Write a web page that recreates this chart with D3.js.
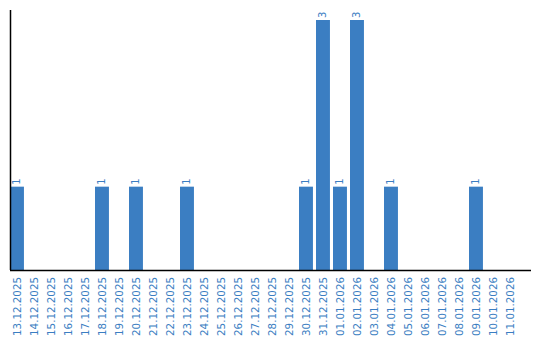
<!DOCTYPE html>
<html>
<head>
<meta charset="utf-8">
<script src="https://cdn.jsdelivr.net/npm/d3@7"></script>
<style>
    body { margin: 0; background: #fff; }
    text { font-family: "DejaVu Sans", sans-serif; }
</style>
</head>
<body>
<div id="chart"></div>
<script>
// dates shown on the x axis
var dates = ["13.12.2025", "14.12.2025", "15.12.2025", "16.12.2025", "17.12.2025",
    "18.12.2025", "19.12.2025", "20.12.2025", "21.12.2025", "22.12.2025",
    "23.12.2025", "24.12.2025", "25.12.2025", "26.12.2025", "27.12.2025",
    "28.12.2025", "29.12.2025", "30.12.2025", "31.12.2025", "01.01.2026",
    "02.01.2026", "03.01.2026", "04.01.2026", "05.01.2026", "06.01.2026",
    "07.01.2026", "08.01.2026", "09.01.2026", "10.01.2026", "11.01.2026"];
// count per date
var counts = [1, 0, 0, 0, 0, 1, 0, 1, 0, 0,
    1, 0, 0, 0, 0, 0, 0, 1, 3, 1,
    3, 0, 1, 0, 0, 0, 0, 1, 0, 0];

var width = 540, height = 340;
var barColor = "#3b7ec2";

var svg = d3.select("#chart").append("svg")
    .attr("width", width)
    .attr("height", height);

var x = d3.scaleBand()
    .domain(dates)
    .range([10, 10 + 17 * (dates.length - 0.18)])
    .paddingInner(0.18)
    .paddingOuter(0);

var y = d3.scaleLinear()
    .domain([0, 3])
    .range([270, 20]);

var data = dates.map(function(d, i) { return {date: d, count: counts[i]}; });
var nonZero = data.filter(function(d) { return d.count > 0; });

// bars
svg.selectAll("rect.bar")
    .data(nonZero)
    .enter().append("rect")
    .attr("class", "bar")
    .attr("x", function(d) { return x(d.date); })
    .attr("y", function(d) { return y(d.count); })
    .attr("width", x.bandwidth())
    .attr("height", function(d) { return y(0) - y(d.count); })
    .attr("fill", barColor);

// value labels
svg.selectAll("text.value")
    .data(nonZero)
    .enter().append("text")
    .attr("class", "value")
    .attr("transform", function(d) {
        return "translate(" + (x(d.date) + x.bandwidth() / 2) + "," + (y(d.count) - 2) + ") rotate(-90)";
    })
    .attr("dy", "0.35em")
    .attr("text-anchor", "start")
    .attr("font-size", "10px")
    .attr("fill", barColor)
    .text(function(d) { return d.count; });

// axes
var xAxis = svg.append("g")
    .attr("transform", "translate(0," + y(0) + ")")
    .call(d3.axisBottom(x).tickSize(0).tickPadding(0));
xAxis.select(".domain")
    .attr("d", "M10,0.5H531")
    .attr("stroke", "#000")
    .attr("stroke-width", 1.5);
xAxis.selectAll(".tick text")
    .attr("transform", "translate(0,7) rotate(-90)")
    .attr("y", 0)
    .attr("dy", "0.35em")
    .attr("text-anchor", "end")
    .attr("font-size", "10.3px")
    .attr("font-family", "DejaVu Sans, sans-serif")
    .attr("fill", barColor);

svg.append("line")
    .attr("x1", 10.5).attr("x2", 10.5)
    .attr("y1", 10).attr("y2", y(0))
    .attr("stroke", "#000")
    .attr("stroke-width", 1.5);
</script>
</body>
</html>
